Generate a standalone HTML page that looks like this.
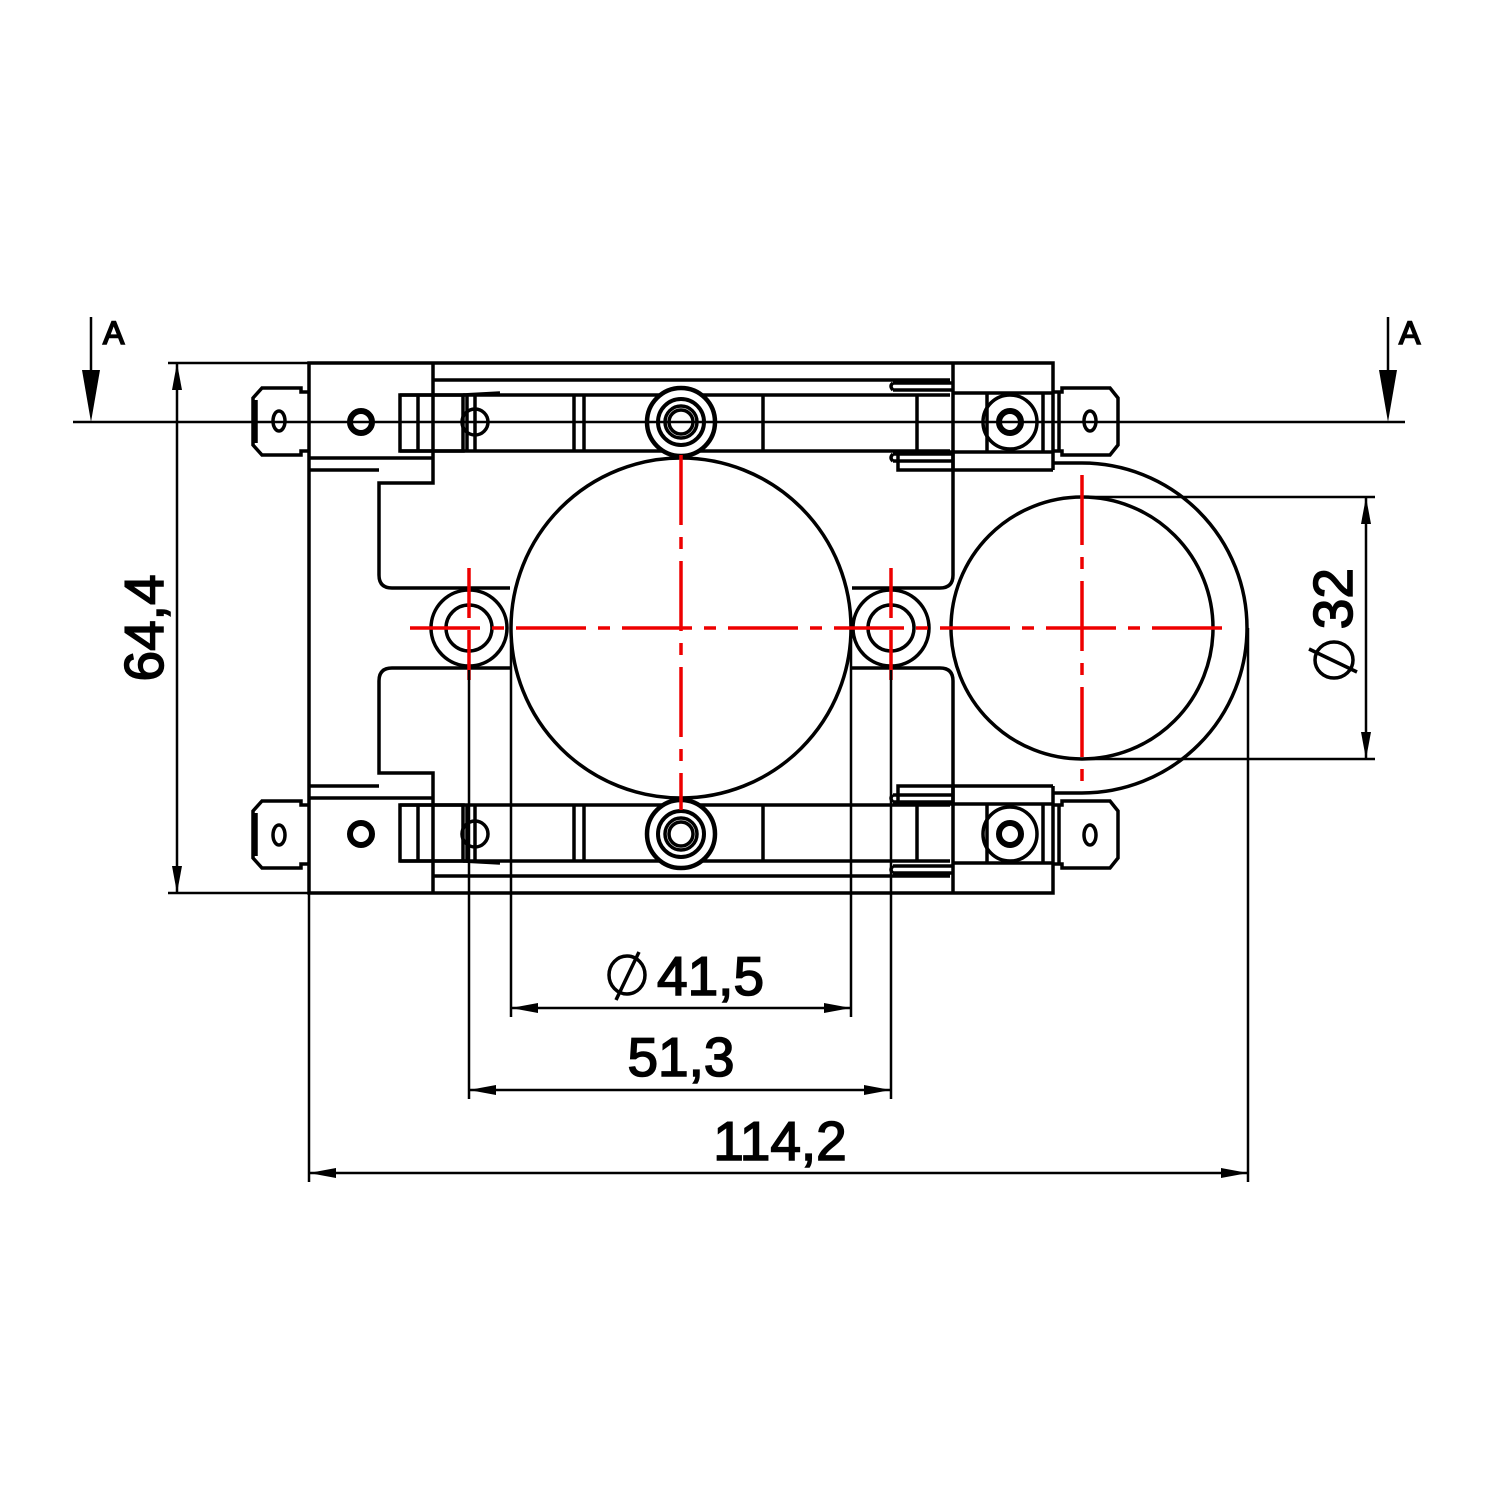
<!DOCTYPE html>
<html><head><style>html,body{margin:0;padding:0;background:#fff}svg{display:block}</style></head>
<body>
<svg width="1500" height="1500" viewBox="0 0 1500 1500" xmlns="http://www.w3.org/2000/svg">
<defs>
<g id="half" fill="none" stroke="#000" stroke-width="3.5">
  <path d="M309,628 V363 H1053 V470"/>
  <line x1="433" y1="380" x2="950" y2="380"/>
  <path d="M433,363 V483 H379 V575 Q379,588 392,588 H510"/>
  <line x1="309" y1="458" x2="433" y2="458"/>
  <line x1="309" y1="470" x2="379" y2="470"/>
  <path d="M953,363 V575 Q953,588 940,588 H852"/>
  <line x1="953" y1="470" x2="1053" y2="470"/>
  <line x1="953" y1="393" x2="1053" y2="393"/>
  <line x1="953" y1="452" x2="1053" y2="452"/>
  <line x1="987" y1="393" x2="987" y2="452"/>
  <line x1="1043" y1="393" x2="1043" y2="452"/>
  <circle cx="1010" cy="422" r="27"/>
  <circle cx="1010" cy="422" r="11" stroke-width="6"/>
  <path d="M893,383 H953 M893,390 H953 M893,383 Q889,386 893,390"/>
  <path d="M893,454 H953 M893,461 H953 M893,454 Q889,458 893,461"/>
  <rect x="898" y="452" width="55" height="18"/>
  <path d="M400,395 H950 M400,451 H950"/>
  <rect x="400" y="395" width="63" height="56"/>
  <line x1="418" y1="395" x2="418" y2="451"/>
  <line x1="463" y1="395" x2="500" y2="393"/>
  <line x1="467" y1="395" x2="467" y2="451"/>
  <line x1="475" y1="395" x2="475" y2="451"/>
  <circle cx="475" cy="422" r="13"/>
  <line x1="574" y1="395" x2="574" y2="451"/>
  <line x1="584" y1="395" x2="584" y2="451"/>
  <line x1="763" y1="395" x2="763" y2="451"/>
  <line x1="917" y1="395" x2="917" y2="451"/>
  <circle cx="681" cy="422" r="34" fill="#fff" stroke-width="4.5"/>
  <circle cx="681" cy="422" r="23" stroke-width="4"/>
  <circle cx="681" cy="422" r="16"/>
  <circle cx="681" cy="422" r="12"/>
  <path d="M309,392 H301 V388 H262 L253,398 V445 L262,455 H301 V451 H309"/>
  <path d="M256,400 V443"/>
  <ellipse cx="279" cy="421" rx="6" ry="10"/>
  <circle cx="361" cy="422" r="11" stroke-width="6"/>
  <path d="M1053,392 H1062 V388 H1110 L1118,398 V445 L1110,455 H1062 V451 H1053"/>
  <line x1="1059" y1="392" x2="1059" y2="451"/>
  <ellipse cx="1090" cy="421" rx="6" ry="10"/>
  <path d="M1053,463 H1082 A165,165 0 0 1 1247,628"/>
</g>
</defs>
<rect width="1500" height="1500" fill="#fff"/>
<use href="#half"/>
<use href="#half" transform="matrix(1 0 0 -1 0 1256)"/>
<g fill="none" stroke="#000" stroke-width="3.5">
  <circle cx="681" cy="628" r="170" fill="#fff"/>
  <circle cx="1082" cy="628" r="131"/>
  <line x1="1082" y1="497" x2="1375" y2="497" stroke-width="2.5"/>
  <line x1="1082" y1="759" x2="1375" y2="759" stroke-width="2.5"/>
  <circle cx="469" cy="628" r="38" fill="#fff"/>
  <circle cx="469" cy="628" r="23"/>
  <circle cx="891" cy="628" r="38" fill="#fff"/>
  <circle cx="891" cy="628" r="23"/>
</g>
<g stroke="#e00" stroke-width="3.5" fill="none">
  <line x1="410" y1="628" x2="1232" y2="628" stroke-dasharray="70,12,12,12"/>
  <line x1="681" y1="455" x2="681" y2="810" stroke-dasharray="70,12,12,12"/>
  <line x1="1082" y1="475" x2="1082" y2="785" stroke-dasharray="70,12,12,12"/>
  <line x1="469" y1="568" x2="469" y2="690" stroke-dasharray="50,12"/>
  <line x1="891" y1="568" x2="891" y2="690" stroke-dasharray="50,12"/>
</g>
<g stroke="#000" stroke-width="2.5" fill="none">
  <line x1="73" y1="422" x2="1405" y2="422"/>
  <line x1="91" y1="317" x2="91" y2="380"/>
  <line x1="1388" y1="317" x2="1388" y2="380"/>
  <line x1="168" y1="363" x2="309" y2="363"/>
  <line x1="168" y1="893" x2="309" y2="893"/>
  <line x1="177" y1="363" x2="177" y2="893"/>
  <line x1="1366" y1="497" x2="1366" y2="759"/>
  <line x1="309" y1="893" x2="309" y2="1182"/>
  <line x1="1248" y1="628" x2="1248" y2="1182"/>
  <line x1="469" y1="670" x2="469" y2="1099"/>
  <line x1="891" y1="670" x2="891" y2="1099"/>
  <line x1="511" y1="640" x2="511" y2="1017"/>
  <line x1="851" y1="640" x2="851" y2="1017"/>
  <line x1="511" y1="1008" x2="851" y2="1008"/>
  <line x1="469" y1="1090" x2="891" y2="1090"/>
  <line x1="309" y1="1173" x2="1248" y2="1173"/>
</g>
<g fill="#000">
  <polygon points="82,370 100,370 91,422"/>
  <polygon points="1379,370 1397,370 1388,422"/>
  <polygon points="177,363 172,390 182,390"/>
  <polygon points="177,893 172,866 182,866"/>
  <polygon points="1366,497 1361,524 1371,524"/>
  <polygon points="1366,759 1361,732 1371,732"/>
  <polygon points="511,1008 538,1003 538,1013"/>
  <polygon points="851,1008 824,1003 824,1013"/>
  <polygon points="469,1090 496,1085 496,1095"/>
  <polygon points="891,1090 864,1085 864,1095"/>
  <polygon points="309,1173 336,1168 336,1178"/>
  <polygon points="1248,1173 1221,1168 1221,1178"/>
</g>
<g font-family="Liberation Sans, sans-serif" fill="#000" stroke="#000" stroke-width="1.6">
  <text x="103" y="344" font-size="32">A</text>
  <text x="1399" y="344" font-size="32">A</text>
  <text x="657" y="995" font-size="55">41,5</text>
  <text x="681" y="1076" font-size="55" text-anchor="middle">51,3</text>
  <text x="780" y="1160" font-size="55" text-anchor="middle">114,2</text>
  <text transform="translate(163,628) rotate(-90)" font-size="55" text-anchor="middle">64,4</text>
  <text transform="translate(1352,568) rotate(-90)" font-size="55" text-anchor="end">32</text>
</g>
<g fill="none" stroke="#000" stroke-width="3.5">
  <ellipse cx="627" cy="975" rx="18" ry="19"/>
  <line x1="616" y1="1000" x2="639" y2="952"/>
  <ellipse cx="1334" cy="660" rx="19" ry="18"/>
  <line x1="1309" y1="649" x2="1357" y2="672"/>
</g>
</svg>
</body></html>
